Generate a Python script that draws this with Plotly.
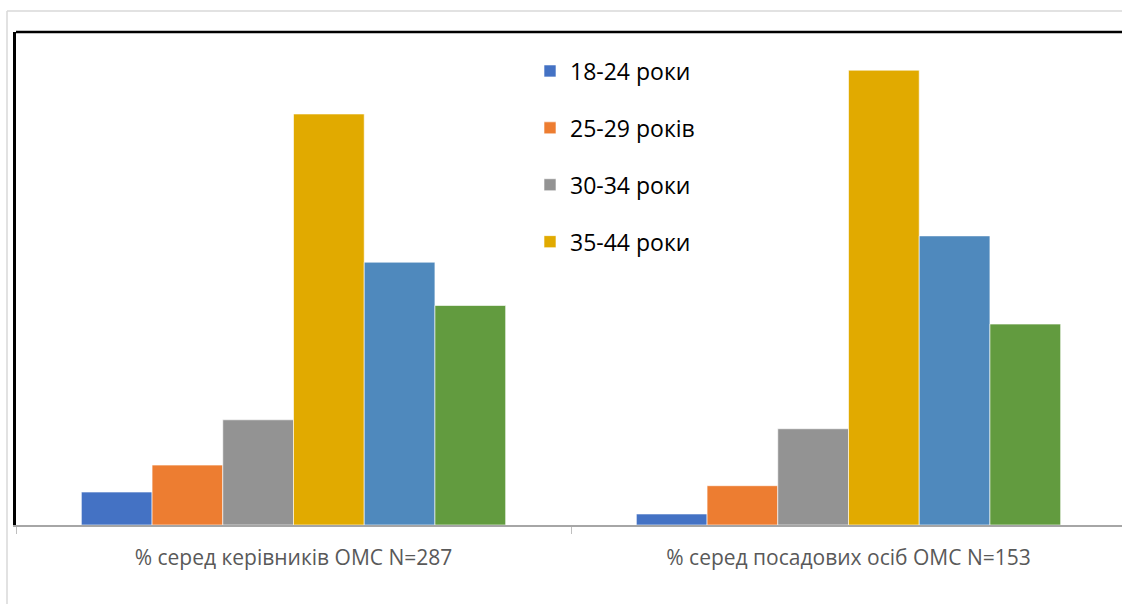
import plotly.graph_objects as go

categories = ["% серед керівників ОМС N=287", "% серед посадових осіб ОМС N=153"]
series_names = ["18-24 роки", "25-29 років", "30-34 роки", "35-44 роки", "45-54 роки", "55 років і більше"]
series_values = [
    [3.02, 1.01],
    [5.49, 3.60],
    [9.64, 8.82],
    [37.66, 41.67],
    [24.08, 26.49],
    [20.11, 18.41],
]
colors = ["#4472C4", "#ED7D31", "#939393", "#E1AA00", "#4F89BD", "#629B3F"]
show_in_legend = [True, True, True, True, False, False]

W, H = 1122, 604
L, T, B = 16, 32, 78.7
R = 0
cat_px = 555.0
plot_w = W - L - R
plot_h = H - T - B

def px_to_paper_x(px):
    return (px - L) / plot_w

def px_to_paper_y(py):
    return (H - B - py) / plot_h

fig = go.Figure()
for i, (name, vals) in enumerate(zip(series_names, series_values)):
    fig.add_trace(go.Bar(
        x=categories, y=vals, name=name,
        marker=dict(color=colors[i], line=dict(color="rgba(255,255,255,0.6)", width=1)),
        showlegend=show_in_legend[i], legendgroup=f"g{i}",
    ))

fig.update_layout(
    width=W, height=H,
    margin=dict(l=L, r=R, t=T, b=B),
    paper_bgcolor="white", plot_bgcolor="white",
    barmode="group", bargap=0.2355, bargroupgap=0,
    font=dict(family="Open Sans", color="#595959"),
    legend=dict(
        x=px_to_paper_x(530), y=px_to_paper_y(49.5), xanchor="left", yanchor="top",
        font=dict(size=23, color="#000000", family="Open Sans"),
        tracegroupgap=24, bgcolor="rgba(0,0,0,0)",
    ),
    xaxis=dict(
        range=[-0.5, -0.5 + plot_w / cat_px],
        showline=True, linecolor="#A6A6A6", linewidth=2,
        ticks="outside", tickson="boundaries", ticklen=7, tickcolor="#BFBFBF", tickwidth=1,
        showgrid=False, zeroline=False,
        tickfont=dict(size=21, color="#595959", family="Open Sans"),
        ticklabelstandoff=13,
        fixedrange=True,
    ),
    yaxis=dict(
        range=[0, 45.17],
        showline=True, linecolor="#000000", linewidth=2.5,
        showticklabels=False, ticks="", showgrid=False, zeroline=False,
    ),
    shapes=[
        dict(type="line", xref="paper", yref="paper", x0=0, x1=1.01, y0=1, y1=1,
             line=dict(color="#000000", width=2.5)),
        dict(type="line", xref="paper", yref="paper",
             x0=px_to_paper_x(7), x1=1.01, y0=px_to_paper_y(11), y1=px_to_paper_y(11),
             line=dict(color="#D9D9D9", width=1.5)),
        dict(type="line", xref="paper", yref="paper",
             x0=px_to_paper_x(7), x1=px_to_paper_x(7), y0=px_to_paper_y(11), y1=px_to_paper_y(606),
             line=dict(color="#D9D9D9", width=1.5)),
    ],
)

fig.write_html("out.html")
